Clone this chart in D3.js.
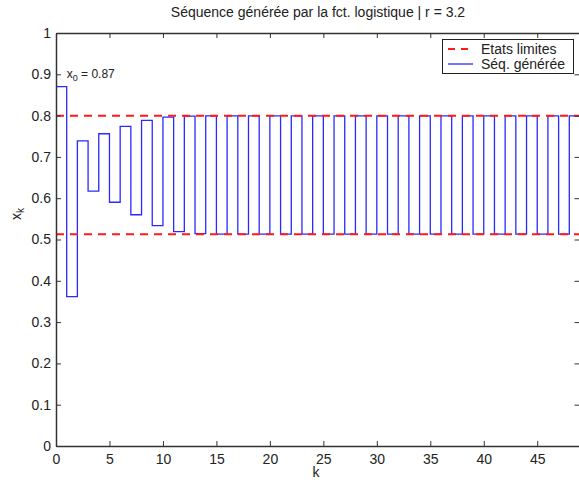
<!DOCTYPE html>
<html><head><meta charset="utf-8">
<script src="https://cdn.jsdelivr.net/npm/d3@7"></script>
<style>body{margin:0;background:#fff}svg{display:block}text{font-family:"Liberation Sans",Arial,sans-serif;fill:#222}</style>
</head><body><svg id="c" width="579" height="480"></svg>
<script>
const kValues = d3.range(0, 50);
const seqValues = [0.87, 0.3619, 0.7390, 0.6172, 0.7560, 0.5902, 0.7739, 0.5599, 0.7885, 0.5336,
  0.7964, 0.5189, 0.7989, 0.5142, 0.7994, 0.5132, 0.7994, 0.5131, 0.7995, 0.5131,
  0.7995, 0.5130, 0.7995, 0.5130, 0.7995, 0.5130, 0.7995, 0.5130, 0.7995, 0.5130,
  0.7995, 0.5130, 0.7995, 0.5130, 0.7995, 0.5130, 0.7995, 0.5130, 0.7995, 0.5130,
  0.7995, 0.5130, 0.7995, 0.5130, 0.7995, 0.5130, 0.7995, 0.5130, 0.7995, 0.5130];
const limitValues = [0.7995, 0.5130];
const xTicks = [0, 5, 10, 15, 20, 25, 30, 35, 40, 45];
const yTicks = [0, 0.1, 0.2, 0.3, 0.4, 0.5, 0.6, 0.7, 0.8, 0.9, 1];
const titleText = "Séquence générée par la fct. logistique | r = 3.2";
const legendLabels = ["Etats limites", "Séq. générée"];

const svg = d3.select("#c");
const L = 56, R = 580, T = 33, B = 446;
const x = d3.scaleLinear().domain([0, 49]).range([L, R]);
const y = d3.scaleLinear().domain([0, 1]).range([B, T]);
const axisColor = "#333";

// stairs
const pts = kValues.map((k, i) => [k, seqValues[i]]);
const line = d3.line().x(d => x(d[0])).y(d => y(d[1])).curve(d3.curveStepAfter);
svg.append("path").attr("d", line(pts)).attr("fill", "none")
  .attr("stroke", "#2a2aff").attr("stroke-width", 1.3);

// limits
limitValues.forEach(v => {
  svg.append("line").attr("x1", x(0)).attr("x2", x(49)).attr("y1", y(v)).attr("y2", y(v))
    .attr("stroke", "#ff1a1a").attr("stroke-width", 2).attr("stroke-dasharray", "8,6");
});

// axes
const gB = svg.append("g").attr("transform", `translate(0,${B})`)
  .call(d3.axisBottom(x).tickValues(xTicks).tickSizeInner(-5).tickSizeOuter(0).tickPadding(8));
const gT = svg.append("g").attr("transform", `translate(0,${T})`)
  .call(d3.axisTop(x).tickValues(xTicks).tickSizeInner(-5).tickSizeOuter(0).tickFormat(""));
const gL = svg.append("g").attr("transform", `translate(${L},0)`)
  .call(d3.axisLeft(y).tickValues(yTicks).tickSizeInner(-5).tickSizeOuter(0).tickPadding(5).tickFormat(d3.format("")));
const gR = svg.append("g").attr("transform", `translate(${R - 0.5},0)`)
  .call(d3.axisRight(y).tickValues(yTicks).tickSizeInner(-5).tickSizeOuter(0).tickFormat(""));
[gB, gT, gL, gR].forEach(g => {
  g.select(".domain").attr("stroke", axisColor).attr("stroke-width", 1.5);
  g.selectAll(".tick line").attr("stroke", axisColor).attr("stroke-width", 1);
  g.selectAll(".tick text").attr("font-size", 14).attr("fill", "#333")
    .style("font-family", "Liberation Sans, Arial, sans-serif");
});

// title and labels
svg.append("text").attr("x", 318).attr("y", 17).attr("text-anchor", "middle")
  .attr("font-size", 14).text(titleText);
svg.append("text").attr("x", 316).attr("y", 477).attr("text-anchor", "middle")
  .attr("font-size", 14).text("k");
const yl = svg.append("text").attr("transform", "translate(21,214) rotate(-90)")
  .attr("text-anchor", "middle").attr("font-size", 14);
yl.append("tspan").text("x");
yl.append("tspan").attr("font-size", 10).attr("dy", 3).text("k");

// x0 annotation
const ann = svg.append("text").attr("x", x(1)).attr("y", 78).attr("font-size", 12);
ann.append("tspan").text("x");
ann.append("tspan").attr("font-size", 9).attr("dy", 3).text("0");
ann.append("tspan").attr("dy", -3).text(" = 0.87");

// legend
const lg = svg.append("g");
lg.append("rect").attr("x", 442.5).attr("y", 39.5).attr("width", 131).attr("height", 34)
  .attr("fill", "#fff").attr("stroke", "#222").attr("stroke-width", 1);
lg.append("line").attr("x1", 448).attr("x2", 473).attr("y1", 49).attr("y2", 49)
  .attr("stroke", "#ff1a1a").attr("stroke-width", 2).attr("stroke-dasharray", "7,6");
lg.append("line").attr("x1", 448).attr("x2", 473).attr("y1", 64).attr("y2", 64)
  .attr("stroke", "#2a2aff").attr("stroke-width", 1.3);
lg.append("text").attr("x", 481).attr("y", 54).attr("font-size", 14).text(legendLabels[0]);
lg.append("text").attr("x", 481).attr("y", 69).attr("font-size", 14).text(legendLabels[1]);
</script></body></html>
